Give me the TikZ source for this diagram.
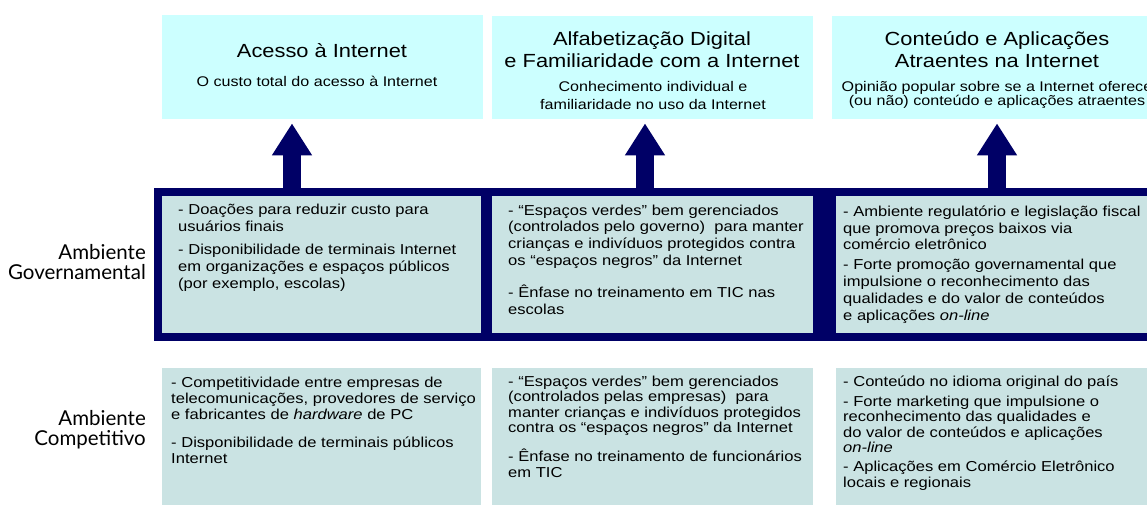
\documentclass[tikz,border=0pt]{standalone}
\usepackage{fontspec}
\setmainfont{Liberation Sans}[FakeStretch=1.15]
\newfontfamily\labelfont{Lato}
\usepackage{tikz}
\usetikzlibrary{arrows.meta,positioning}
\definecolor{navyband}{RGB}{0,0,102}
\definecolor{topcyan}{RGB}{204,255,255}
\definecolor{boxteal}{RGB}{202,227,227}
\tikzset{
    topbox/.style={fill=topcyan, anchor=north west, inner sep=0pt},
    envbox/.style={fill=boxteal, anchor=north west, inner sep=0pt},
    titletext/.style={anchor=north, inner sep=0pt, align=center, font=\fontsize{19}{22}\selectfont},
    subtext/.style={anchor=north, inner sep=0pt, align=center, font=\fontsize{14}{#1}\selectfont},
    subtext/.default=17.5,
    boxtext/.style={anchor=north west, inner sep=0pt, align=left, font=\fontsize{14.4}{#1}\selectfont},
    boxtext/.default=16.5,
    sidelabel/.style={anchor=north east, inner sep=0pt, align=right, font=\labelfont\fontsize{20.5}{20}\selectfont},
    bigarrow/.style={navyband, line width=18pt, -{Triangle[width=38pt,length=32pt]}, shorten >=4pt}
}
\begin{document}
\begin{tikzpicture}[x=1pt,y=-1pt]
    \useasboundingbox (0,0) rectangle (1147,505);
    \clip (0,0) rectangle (1147,505);

    % Top row: indicators
    \node[topbox, minimum width=321pt, minimum height=104pt] (acc) at (162,15) {};
    \node[topbox, minimum width=321pt, minimum height=103pt] (alf) at (492,16) {};
    \node[topbox, minimum width=330pt, minimum height=103pt] (cont) at (832,16) {};

    \node[titletext] (acct) at (322,43.3) {Acesso à Internet};
    \node[subtext] (accs) at (317,75.7) {O custo total do acesso à Internet};

    \node[titletext] (alft) at (652,31.3) {Alfabetização Digital\\e Familiaridade com a Internet};
    \node[subtext] (alfs) at (653,81.5) {Conhecimento individual e\\familiaridade no uso da Internet};

    \node[titletext] (contt) at (997,31.3) {Conteúdo e Aplicações\\Atraentes na Internet};
    \node[subtext=14] (conts) at (997,81) {Opinião popular sobre se a Internet oferece\\(ou não) conteúdo e aplicações atraentes};

    % Government band
    \node[fill=navyband, anchor=north west, inner sep=0pt, minimum width=1016pt, minimum height=153pt] (band) at (154,188) {};
    \node[envbox, minimum width=319pt, minimum height=137pt] (gov1) at (162,196) {};
    \node[envbox, minimum width=321pt, minimum height=137pt] (gov2) at (492,196) {};
    \node[envbox, minimum width=321pt, minimum height=137pt] (gov3) at (836,196) {};

    % Arrows up
    \coordinate (a1) at (292,190);
    \coordinate (a2) at (645,190);
    \coordinate (a3) at (997,190);
    \draw[bigarrow] (a1) -- (a1 |- acc.south);
    \draw[bigarrow] (a2) -- (a2 |- alf.south);
    \draw[bigarrow] (a3) -- (a3 |- cont.south);

    \node[boxtext=17] (gov1t) at (178,203.5) {- Doações para reduzir custo para\\usuários finais\\[6pt]- Disponibilidade de terminais Internet\\em organizações e espaços públicos\\(por exemplo, escolas)};
    \node[boxtext=16.7] (gov2t) at (508,204.5) {- “Espaços verdes” bem gerenciados\\(controlados pelo governo)~ para manter\\crianças e indivíduos protegidos contra\\os “espaços negros” da Internet\\[16pt]- Ênfase no treinamento em TIC nas\\escolas};
    \node[boxtext=16.8] (gov3t) at (843,205.5) {- Ambiente regulatório e legislação fiscal\\que promova preços baixos via\\comércio eletrônico\\[3pt]- Forte promoção governamental que\\impulsione o reconhecimento das\\qualidades e do valor de conteúdos\\e aplicações \textit{on-line}};

    % Competitive row
    \node[envbox, minimum width=319pt, minimum height=160pt] (comp1) at (162,368) {};
    \node[envbox, minimum width=321pt, minimum height=160pt] (comp2) at (492,368) {};
    \node[envbox, minimum width=321pt, minimum height=160pt] (comp3) at (836,368) {};

    \node[boxtext=16] (comp1t) at (171,376.5) {- Competitividade entre empresas de\\telecomunicações, provedores de serviço\\e fabricantes de \textit{hardware} de PC\\[12pt]- Disponibilidade de terminais públicos\\Internet};
    \node[boxtext=15.5] (comp2t) at (508,375.5) {- “Espaços verdes” bem gerenciados\\(controlados pelas empresas)~ para\\manter crianças e indivíduos protegidos\\contra os “espaços negros” da Internet\\[12.5pt]- Ênfase no treinamento de funcionários\\em TIC};
    \node[boxtext=15.5] (comp3t) at (843,375.5) {- Conteúdo no idioma original do país\\[4.5pt]- Forte marketing que impulsione o\\reconhecimento das qualidades e\\do valor de conteúdos e aplicações\\\textit{on-line}\\[3.5pt]- Aplicações em Comércio Eletrônico\\locais e regionais};

    % Row labels
    \node[sidelabel] (govl) at (146,244) {Ambiente\\Governamental};
    \node[sidelabel] (compl) at (146,410) {Ambiente\\Competitivo};
\end{tikzpicture}
\end{document}
